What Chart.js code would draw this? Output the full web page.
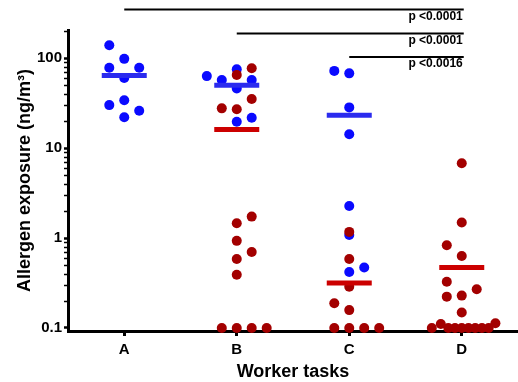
<!DOCTYPE html>
<html lang="en">
<head>
<meta charset="UTF-8">
<title>Allergen exposure by worker task</title>
<script src="https://cdn.jsdelivr.net/npm/chart.js@4.4.1/dist/chart.umd.min.js"></script>
<style>
    body { margin: 0; background: #fff; }
    #wrap { width: 518px; height: 382px; }
</style>
</head>
<body>
<div id="wrap"><canvas id="dotChart" width="518" height="382"></canvas></div>
<script>
    // categories and tick labels
    const categories = ['A', 'B', 'C', 'D'];
    const yTicks = [0.1, 1, 10, 100];
    const yTickLabels = ['0.1', '1', '10', '100'];

    // blue group values (ng/m3) and their dot column within the category
    const blueA = [139, 98, 78, 78, 60, 34, 30, 26, 22];
    const blueAcol = [-1, 0, -1, 1, 0, 0, -1, 1, 0];
    const blueB = [63, 57, 75, 57, 46, 19.6, 21.7];
    const blueBcol = [-2, -1, 0, 1, 0, 0, 1];
    const blueC = [72, 67.6, 28.3, 14.2, 2.27, 1.08, 0.42, 0.47];
    const blueCcol = [-1, 0, 0, 0, 0, 0, 0, 1];

    // dark red group
    const redB = [65, 77, 35, 27.6, 27, 1.73, 1.46, 0.93, 0.70, 0.585, 0.39, 0.1, 0.1, 0.1, 0.1];
    const redBcol = [0, 1, 1, -1, 0, 1, 0, 0, 1, 0, 0, -1, 0, 1, 2];
    const redC = [1.17, 0.585, 0.288, 0.188, 0.158, 0.1, 0.1, 0.1, 0.1];
    const redCcol = [0, 0, 0, -1, 0, -1, 0, 1, 2];
    const redD = [6.76, 1.49, 0.83, 0.63, 0.327, 0.27, 0.223, 0.229, 0.149,
                  0.1, 0.111, 0.1, 0.1, 0.1, 0.1, 0.1, 0.1, 0.1, 0.113];
    const redDcol = [0, 0, -1, 0, -1, 1, -1, 0, 0,
                     -2, -1.4, -0.9, -0.45, 0, 0.45, 0.9, 1.35, 1.8, 2.25];

    // medians per category (null = none)
    const blueMedian = [64, 50, 23.2, null];
    const redMedian = [null, 16.1, 0.316, 0.47];

    // significance brackets: start category -> D
    const sigFrom = [1, 2, 3];
    const sigText = ['p <0.0001', 'p <0.0001', 'p <0.0016'];

    const BLUE = '#0a0aff';
    const BLUE_BAR = '#2b2bee';
    const RED = '#a30000';
    const RED_BAR = '#cc0000';
    const FONT = "'Liberation Sans', Arial, Helvetica, sans-serif";
    const colStep = 0.133;

    function dots(cat, vals, cols) {
        return vals.map((v, i) => ({ x: cat + cols[i] * colStep, y: v }));
    }

    const blueData = [].concat(
        dots(1, blueA, blueAcol), dots(2, blueB, blueBcol), dots(3, blueC, blueCcol));
    const redData = [].concat(
        dots(2, redB, redBcol), dots(3, redC, redCcol), dots(4, redD, redDcol));

    const datasets = [
        { label: 'blue', data: blueData, backgroundColor: BLUE, borderWidth: 0,
          pointRadius: 5, order: 3, clip: false },
        { label: 'red', data: redData, backgroundColor: RED, borderWidth: 0,
          pointRadius: 5, order: 2, clip: false }
    ];

    function medianBar(cat, v, color) {
        return { type: 'line', data: [{ x: cat - 0.2, y: v }, { x: cat + 0.2, y: v }],
                 borderColor: color, borderWidth: 5, pointRadius: 0, showLine: true,
                 borderCapStyle: 'butt', order: 0, clip: false };
    }
    blueMedian.forEach((v, i) => { if (v != null) datasets.push(medianBar(i + 1, v, BLUE_BAR)); });
    redMedian.forEach((v, i) => { if (v != null) datasets.push(medianBar(i + 1, v, RED_BAR)); });

    // small minor ticks on log axis + significance brackets
    const extras = {
        id: 'extras',
        afterDraw(chart) {
            const c = chart.ctx, xs = chart.scales.x, ys = chart.scales.y;
            const left = chart.chartArea.left;
            c.save();
            c.strokeStyle = '#000';
            c.lineWidth = 1.5;
            yTicks.forEach(d => {
                for (let k = 2; k <= 9; k++) {
                    const v = k * d;
                    if (v > ys.max) continue;
                    const py = Math.round(ys.getPixelForValue(v)) + 0.5;
                    c.beginPath();
                    c.moveTo(left - 4, py);
                    c.lineTo(left - 1, py);
                    c.stroke();
                }
            });
            const endX = xs.getPixelForValue(4) + 2;
            const lineY = [9.5, 33.5, 57];
            const textY = [17, 40.5, 64];
            c.lineWidth = 2;
            c.fillStyle = '#000';
            c.font = 'bold 12px ' + FONT;
            c.textAlign = 'right';
            c.textBaseline = 'middle';
            sigFrom.forEach((f, i) => {
                c.beginPath();
                c.moveTo(xs.getPixelForValue(f), lineY[i]);
                c.lineTo(endX, lineY[i]);
                c.stroke();
                c.fillText(sigText[i], endX - 1, textY[i]);
            });
            c.restore();
        }
    };

    new Chart(document.getElementById('dotChart'), {
        type: 'scatter',
        data: { datasets: datasets },
        options: {
            responsive: false,
            animation: false,
            layout: { autoPadding: false, padding: { top: 30, right: 0, bottom: 0, left: 0 } },
            plugins: { legend: { display: false }, tooltip: { enabled: false } },
            scales: {
                x: {
                    type: 'linear', min: 0.5, max: 4.5,
                    afterBuildTicks: s => { s.ticks = categories.map((c, i) => ({ value: i + 1 })); },
                    afterFit: s => { s.height = 51; s.paddingLeft = 0; s.paddingRight = 0; },
                    border: { display: true, color: '#000', width: 3 },
                    grid: { drawOnChartArea: false, tickLength: 5, tickWidth: 3, tickColor: '#000' },
                    ticks: { autoSkip: false, maxRotation: 0, padding: 5, color: '#000',
                             font: { family: FONT, size: 15, weight: 'bold' },
                             callback: (v, i) => categories[i] },
                    title: { display: true, text: 'Worker tasks', color: '#000',
                             font: { family: FONT, size: 18, weight: 'bold' },
                             padding: { top: 0, bottom: -1 } }
                },
                y: {
                    type: 'logarithmic', min: 0.0926, max: 205,
                    afterBuildTicks: s => { s.ticks = yTicks.map(v => ({ value: v, major: true })); },
                    afterFit: s => { s.width = 68; s.paddingTop = 0; s.paddingBottom = 0; },
                    border: { display: true, color: '#000', width: 3 },
                    grid: { drawOnChartArea: false, tickLength: 4, tickWidth: 2.5, tickColor: '#000' },
                    ticks: { autoSkip: false, padding: 2, color: '#000',
                             font: { family: FONT, size: 15, weight: 'bold' },
                             callback: (v, i) => yTickLabels[i] },
                    title: { display: true, text: 'Allergen exposure (ng/m³)', color: '#000',
                             font: { family: FONT, size: 18, weight: 'bold' },
                             padding: { top: 14, bottom: 0 } }
                }
            }
        },
        plugins: [extras]
    });
</script>
</body>
</html>
